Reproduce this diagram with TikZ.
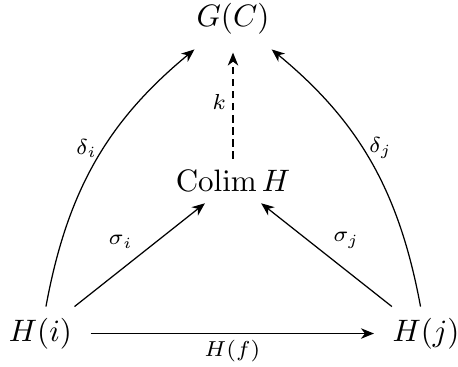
\documentclass[tikz,border=0pt]{standalone}
\usetikzlibrary{arrows.meta}
\begin{document}
\begin{tikzpicture}[x=0.32258pt, y=-0.32258pt,
  obj/.style={inner xsep=3.5pt, inner ysep=3.5pt},
  arr/.style={-{Stealth[length=4.2pt, width=3.4pt, inset=1.3pt]}, line width=0.4pt},
  lab/.style={font=\scriptsize, inner sep=2pt}]
\useasboundingbox (0,0) rectangle (458,366);
\node[obj] (GC) at (233,18.5) {$G(C)$};
\node[obj] (CH) at (233,181) {$\mathrm{Colim}\,H$};
\node[obj] (Hi) at (40.5,333.5) {$H(i)$};
\node[obj] (Hj) at (426,333.5) {$H(j)$};
\draw[arr, shorten <=2.3pt, shorten >=2.3pt] (Hi) -- node[lab, below] {$H(f)$} (Hj);
\draw[arr] (Hi) -- node[lab, above left] {$\sigma_i$} (CH);
\draw[arr] (Hj) -- node[lab, above right] {$\sigma_j$} (CH);
\draw[arr, dash pattern=on 2.4pt off 1.5pt, shorten >=2.3pt] (CH) -- node[lab, left] {$k$} (GC);
\draw[arr, shorten >=2pt] (Hi) to[bend left=20] node[lab, left, pos=0.55] {$\delta_i$} (GC);
\draw[arr, shorten >=2pt] (Hj) to[bend right=20] node[lab, right, pos=0.55] {$\delta_j$} (GC);
\end{tikzpicture}
\end{document}
